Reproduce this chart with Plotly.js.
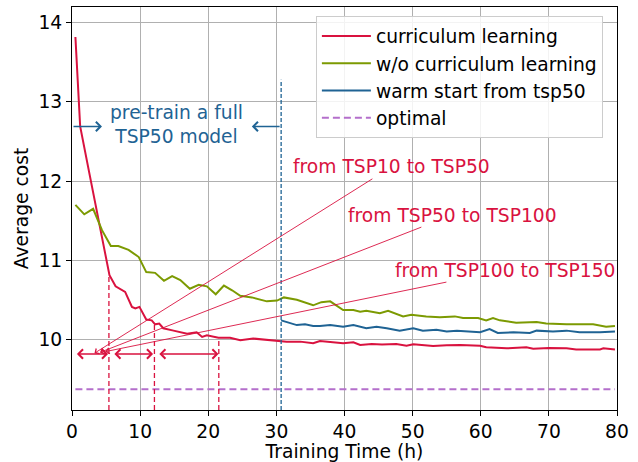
<!DOCTYPE html>
<html>
<head>
<meta charset="utf-8">
<script src="https://cdn.plot.ly/plotly-3.0.1.min.js"></script>
<style>html,body{margin:0;padding:0;background:#fff;}#chart{width:638px;height:462px;}</style>
</head>
<body>
<div id="chart"></div>
<script>
// ---- data ----
const curriculumX = [0.5, 1.2, 2.5, 3.7, 5.5, 6.4, 7.8, 8.8, 9.3, 9.9, 10.9, 11.7, 12.2, 12.8, 13.4, 14.9, 16.9, 18.3, 19.1, 19.8, 21.5, 23.2, 24.7, 26.6, 29.6, 31.5, 33.5, 35.4, 36.4, 39.8, 41.3, 42.3, 44.0, 45.5, 47.6, 49.1, 50.1, 51.5, 53.0, 55.0, 57.0, 59.9, 60.8, 63.8, 66.7, 67.7, 70.0, 72.6, 74.0, 77.5, 78.0, 79.7];
const curriculumY = [13.82, 12.69, 12.12, 11.60, 10.81, 10.67, 10.60, 10.41, 10.39, 10.41, 10.25, 10.24, 10.19, 10.20, 10.14, 10.11, 10.07, 10.09, 10.03, 10.05, 10.02, 10.02, 9.99, 10.01, 9.98, 9.97, 9.971, 9.95, 9.979, 9.95, 9.962, 9.928, 9.94, 9.935, 9.941, 9.92, 9.937, 9.93, 9.915, 9.925, 9.93, 9.92, 9.899, 9.886, 9.899, 9.882, 9.89, 9.886, 9.873, 9.873, 9.886, 9.873];

const noCurriculumX = [0.5, 1.8, 3.1, 4.4, 5.7, 6.8, 8.3, 9.8, 10.9, 12.2, 13.5, 14.7, 15.9, 17.3, 18.6, 19.8, 21.1, 22.3, 23.5, 24.7, 26.4, 28.6, 30.1, 31.1, 33.0, 35.4, 36.6, 37.9, 39.8, 41.3, 42.3, 43.2, 45.2, 46.4, 48.6, 49.8, 52.0, 54.0, 56.2, 57.4, 59.6, 60.8, 61.8, 62.8, 65.2, 68.2, 69.6, 72.6, 76.5, 78.4, 79.7];
const noCurriculumY = [11.70, 11.58, 11.65, 11.38, 11.18, 11.18, 11.13, 11.04, 10.85, 10.84, 10.74, 10.80, 10.75, 10.64, 10.69, 10.67, 10.57, 10.68, 10.62, 10.55, 10.53, 10.48, 10.49, 10.53, 10.50, 10.43, 10.47, 10.48, 10.37, 10.37, 10.35, 10.36, 10.33, 10.36, 10.29, 10.31, 10.29, 10.28, 10.29, 10.27, 10.27, 10.24, 10.27, 10.24, 10.21, 10.22, 10.20, 10.19, 10.19, 10.16, 10.17];

const warmStartX = [30.7, 32.0, 33.0, 34.2, 35.4, 36.4, 37.9, 39.8, 41.3, 43.2, 44.7, 46.2, 48.1, 50.1, 51.5, 53.5, 55.0, 56.5, 58.4, 59.9, 61.3, 62.5, 64.8, 67.2, 68.2, 70.6, 72.6, 74.5, 77.5, 79.7];
const warmStartY = [10.24, 10.21, 10.18, 10.19, 10.17, 10.17, 10.18, 10.16, 10.18, 10.14, 10.16, 10.14, 10.11, 10.14, 10.11, 10.12, 10.10, 10.11, 10.10, 10.09, 10.13, 10.08, 10.09, 10.08, 10.11, 10.10, 10.11, 10.09, 10.09, 10.10];

const optimalX = [0.5, 79.7];
const optimalY = [9.37, 9.37];

// curriculum stage boundaries (h) and the cost reached there
const stageBoundX = [5.42, 12.1, 21.55];
const stageBoundY = [10.82, 10.2, 10.01];
const stageArrowFrom = [0.5, 6.0, 12.6];
const stageArrowTo = [5.3, 11.9, 21.5];
const stageArrowY = 9.815;
const stageLabels = ['from TSP10 to TSP50', 'from TSP50 to TSP100', 'from TSP100 to TSP150'];
const stageLabelX = [46.9, 55.8, 63.6];
const stageLabelY = [12.18, 11.57, 10.875];
const stagePointX = [3.3, 4.1, 4.9];
const stagePointY = [9.825, 9.835, 9.845];

const warmStartBegin = 30.7;
const pretrainTop = 13.28;
const pretrainArrowY = 12.69;
const pretrainArrowHeads = [4.4, 26.4];
const pretrainLabel = 'pre-train a full<br>TSP50 model';

const xTicks = [0, 10, 20, 30, 40, 50, 60, 70, 80];
const yTicks = [10, 11, 12, 13, 14];
const xRange = [0, 80];
const yRange = [9.107, 14.2];

// ---- style ----
const RED = '#d9123f';
const GREEN = '#7c9a02';
const BLUE = '#1f6394';
const PURPLE = '#b46fcb';
const FONT = 'DejaVu Sans';
const FS = 18.7;

const traces = [
  {x: curriculumX, y: curriculumY, mode: 'lines', name: 'curriculum learning', line: {color: RED, width: 2}},
  {x: noCurriculumX, y: noCurriculumY, mode: 'lines', name: 'w/o curriculum learning', line: {color: GREEN, width: 2}},
  {x: warmStartX, y: warmStartY, mode: 'lines', name: 'warm start from tsp50', line: {color: BLUE, width: 2}},
  {x: optimalX, y: optimalY, mode: 'lines', name: 'optimal', line: {color: PURPLE, width: 2, dash: '7px,4px'}},
  {x: [warmStartBegin, warmStartBegin], y: [yRange[0], pretrainTop], mode: 'lines', showlegend: false, hoverinfo: 'skip',
   line: {color: BLUE, width: 1.3, dash: '4px,2px'}}
];
stageBoundX.forEach((bx, i) => {
  traces.push({x: [bx, bx], y: [yRange[0], stageBoundY[i]], mode: 'lines', showlegend: false, hoverinfo: 'skip',
    line: {color: RED, width: 1.3, dash: '5px,3px'}});
});

const annotations = [];
stageArrowFrom.forEach((fx, i) => {
  annotations.push({x: stageArrowTo[i], y: stageArrowY, ax: fx, ay: stageArrowY, xref: 'x', yref: 'y', axref: 'x', ayref: 'y',
    text: '', showarrow: true, arrowside: 'end+start', arrowhead: 4, startarrowhead: 4, arrowsize: 1.2, startarrowsize: 1.2,
    arrowwidth: 1.5, arrowcolor: RED});
});
stageLabels.forEach((t, i) => {
  annotations.push({x: stagePointX[i], y: stagePointY[i], ax: stageLabelX[i], ay: stageLabelY[i], xref: 'x', yref: 'y', axref: 'x', ayref: 'y',
    text: t, showarrow: true, arrowhead: 4, arrowsize: 1.3, arrowwidth: 0.9, arrowcolor: RED,
    font: {family: FONT, size: FS, color: RED}});
});
annotations.push({x: pretrainArrowHeads[0], y: pretrainArrowY, ax: xRange[0], ay: pretrainArrowY, xref: 'x', yref: 'y', axref: 'x', ayref: 'y',
  text: '', showarrow: true, arrowhead: 4, arrowsize: 1.2, arrowwidth: 1.5, arrowcolor: BLUE});
annotations.push({x: pretrainArrowHeads[1], y: pretrainArrowY, ax: warmStartBegin, ay: pretrainArrowY, xref: 'x', yref: 'y', axref: 'x', ayref: 'y',
  text: '', showarrow: true, arrowhead: 4, arrowsize: 1.2, arrowwidth: 1.5, arrowcolor: BLUE});
annotations.push({x: (pretrainArrowHeads[0] + pretrainArrowHeads[1]) / 2, y: 12.71, xref: 'x', yref: 'y', showarrow: false,
  text: pretrainLabel, font: {family: FONT, size: FS, color: BLUE}, align: 'center'});

const layout = {
  width: 638, height: 462,
  margin: {l: 72, r: 21, t: 7, b: 52},
  paper_bgcolor: '#fff', plot_bgcolor: '#fff',
  font: {family: FONT, size: FS, color: '#000'},
  showlegend: true,
  legend: {x: 0.4475, y: 0.977, xanchor: 'left', yanchor: 'top', bgcolor: 'rgba(255,255,255,0.85)',
    bordercolor: '#cccccc', borderwidth: 1, itemwidth: 49, font: {family: FONT, size: FS, color: '#000'}},
  xaxis: {range: xRange, tickvals: xTicks, ticks: 'outside', ticklen: 5, tickcolor: '#000',
    showline: true, mirror: true, linecolor: '#000', linewidth: 1, showgrid: true, gridcolor: '#b0b0b0', gridwidth: 1,
    zeroline: false, title: {text: 'Training Time (h)', standoff: 5, font: {family: FONT, size: FS}}},
  yaxis: {range: yRange, tickvals: yTicks, ticks: 'outside', ticklen: 5, tickcolor: '#000',
    showline: true, mirror: true, linecolor: '#000', linewidth: 1, showgrid: true, gridcolor: '#b0b0b0', gridwidth: 1,
    zeroline: false, title: {text: 'Average cost', standoff: 4, font: {family: FONT, size: FS}}},
  annotations: annotations
};

Plotly.newPlot('chart', traces, layout, {staticPlot: true, displayModeBar: false});
</script>
</body>
</html>
